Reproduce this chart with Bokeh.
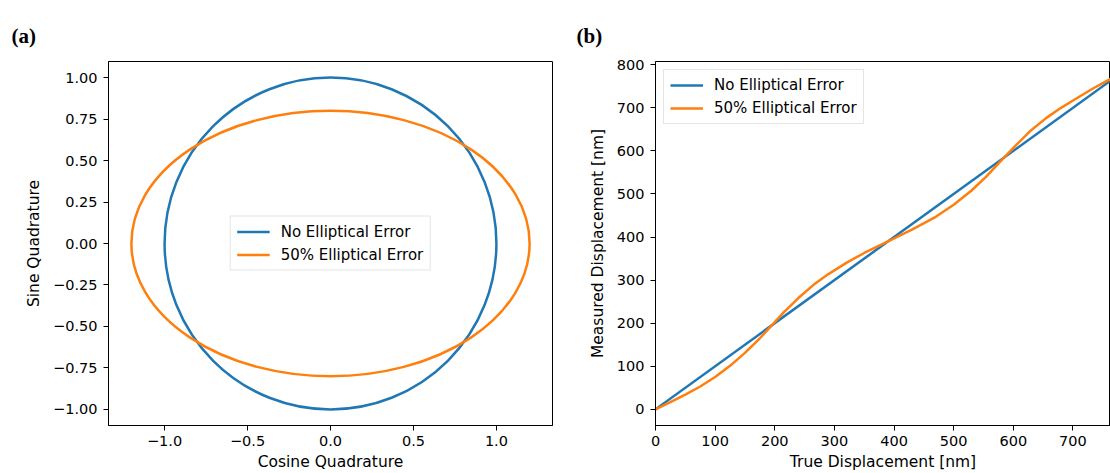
from bokeh.plotting import figure
from bokeh.models import Range1d, FixedTicker, Legend, LegendItem
from bokeh.layouts import row
from bokeh.embed import file_html
from bokeh.resources import INLINE

BLUE = "#1f77b4"
ORANGE = "#ff7f0e"

# ---------------- data: panel (a) ----------------
series_names = ["No Elliptical Error", "50% Elliptical Error"]
shape_cx = [0.0, 0.0]
shape_cy = [0.0, 0.0]
shape_width = [2.0, 2.4]     # full extent along the cosine axis
shape_height = [2.0, 1.6]    # full extent along the sine axis

a_xticks = [-1.0, -0.5, 0.0, 0.5, 1.0]
a_xlabels = ["\u22121.0", "\u22120.5", "0.0", "0.5", "1.0"]
a_yticks = [-1.0, -0.75, -0.5, -0.25, 0.0, 0.25, 0.5, 0.75, 1.0]
a_ylabels = ["\u22121.00", "\u22120.75", "\u22120.50", "\u22120.25", "0.00",
             "0.25", "0.50", "0.75", "1.00"]

# ---------------- data: panel (b) ----------------
true_ideal = [0, 763]
meas_ideal = [0, 763]
true_err = [0, 25, 50, 75, 100, 125, 150, 175, 195, 215, 240, 265, 290, 320,
            350, 390, 430, 470, 500, 530, 555, 580, 605, 630, 655, 680, 705,
            735, 763]
meas_err = [0, 17, 34, 53, 75, 101, 131, 165, 195, 225, 259, 289, 314, 340,
            363, 390, 417, 447, 475, 508, 541, 578, 614, 648, 676, 700, 721,
            746, 767]

b_xticks = [0, 100, 200, 300, 400, 500, 600, 700]
b_xlabels = ["0", "100", "200", "300", "400", "500", "600", "700"]
b_yticks = [0, 100, 200, 300, 400, 500, 600, 700, 800]
b_ylabels = ["0", "100", "200", "300", "400", "500", "600", "700", "800"]

FONT = "DejaVu Sans"
TICK_SIZE = "14.5px"
LABEL_SIZE = "15.5px"
LEGEND_SIZE = "15px"
LW = 2.5
NAN = float("nan")


def style(p, xt, xl, yt, yl):
    p.outline_line_color = "black"
    p.outline_line_width = 1
    p.outline_line_alpha = 1
    p.xgrid.visible = False
    p.ygrid.visible = False
    p.background_fill_color = "white"
    p.border_fill_color = "white"
    for ax in list(p.xaxis) + list(p.yaxis):
        ax.axis_line_color = "black"
        ax.axis_line_width = 1
        ax.major_tick_out = 5
        ax.major_tick_in = 0
        ax.minor_tick_out = 0
        ax.minor_tick_in = 0
        ax.major_tick_line_color = "black"
        ax.major_tick_line_width = 1
        ax.major_label_text_font = FONT
        ax.major_label_text_font_size = TICK_SIZE
        ax.major_label_text_color = "black"
        ax.axis_label_text_font = FONT
        ax.axis_label_text_font_size = LABEL_SIZE
        ax.axis_label_text_font_style = "normal"
        ax.axis_label_text_color = "black"
    p.xaxis.major_label_standoff = 5
    p.yaxis.major_label_standoff = 6
    p.xaxis.axis_label_standoff = 4
    p.yaxis.axis_label_standoff = 7
    p.xaxis.ticker = FixedTicker(ticks=xt)
    p.yaxis.ticker = FixedTicker(ticks=yt)
    p.xaxis.major_label_overrides = {t: s for t, s in zip(xt, xl)}
    p.yaxis.major_label_overrides = {t: s for t, s in zip(yt, yl)}


def style_title(p, text, offset):
    p.title.text = text
    p.title.text_font = "Liberation Serif"
    p.title.text_font_style = "bold"
    p.title.text_font_size = "21px"
    p.title.text_color = "black"
    p.title.align = "left"
    p.title.offset = offset
    p.title.standoff = 28


def make_legend(items, location, margin):
    lg = Legend(items=items, location=location)
    lg.label_text_font = FONT
    lg.label_text_font_size = LEGEND_SIZE
    lg.label_text_color = "black"
    lg.glyph_width = 33
    lg.glyph_height = 18
    lg.label_standoff = 11
    lg.padding = 6
    lg.spacing = 5
    lg.margin = margin
    lg.border_line_color = "#cccccc"
    lg.border_line_width = 1
    lg.background_fill_color = "white"
    lg.background_fill_alpha = 0.8
    return lg


# ---------------- panel (a) ----------------
p1 = figure(width=570, height=473, output_backend="svg", toolbar_location=None,
            x_range=Range1d(-1.338, 1.338), y_range=Range1d(-1.097, 1.097),
            min_border_left=108, min_border_right=18, min_border_top=61,
            min_border_bottom=48, x_axis_label="Cosine Quadrature",
            y_axis_label="Sine Quadrature")
style(p1, a_xticks, a_xlabels, a_yticks, a_ylabels)
style_title(p1, "(a)", -97)

p1.ellipse(x=shape_cx, y=shape_cy, width=shape_width, height=shape_height,
           fill_color=None, line_color=[BLUE, ORANGE], line_width=LW)
# legend keys: line samples that draw nothing in the plot area
k1 = p1.line(x=[NAN], y=[NAN], line_color=BLUE, line_width=LW)
k2 = p1.line(x=[NAN], y=[NAN], line_color=ORANGE, line_width=LW)
leg1 = make_legend([LegendItem(label=series_names[0], renderers=[k1]),
                    LegendItem(label=series_names[1], renderers=[k2])],
                   "center", 0)
p1.add_layout(leg1)

# ---------------- panel (b) ----------------
p2 = figure(width=540, height=473, output_backend="svg", toolbar_location=None,
            x_range=Range1d(0, 763), y_range=Range1d(-37.5, 807.5),
            min_border_left=85, min_border_right=0, min_border_top=61,
            min_border_bottom=48, x_axis_label="True Displacement [nm]",
            y_axis_label="Measured Displacement [nm]")
style(p2, b_xticks, b_xlabels, b_yticks, b_ylabels)
style_title(p2, "(b)", -79)

r1 = p2.line(x=true_ideal, y=meas_ideal, line_color=BLUE, line_width=LW)
r2 = p2.line(x=true_err, y=meas_err, line_color=ORANGE, line_width=LW)
leg2 = make_legend([LegendItem(label=series_names[0], renderers=[r1]),
                    LegendItem(label=series_names[1], renderers=[r2])],
                   "top_left", 8)
p2.add_layout(leg2)

layout = row(p1, p2)
open("out.html", "w").write(file_html(layout, INLINE))
